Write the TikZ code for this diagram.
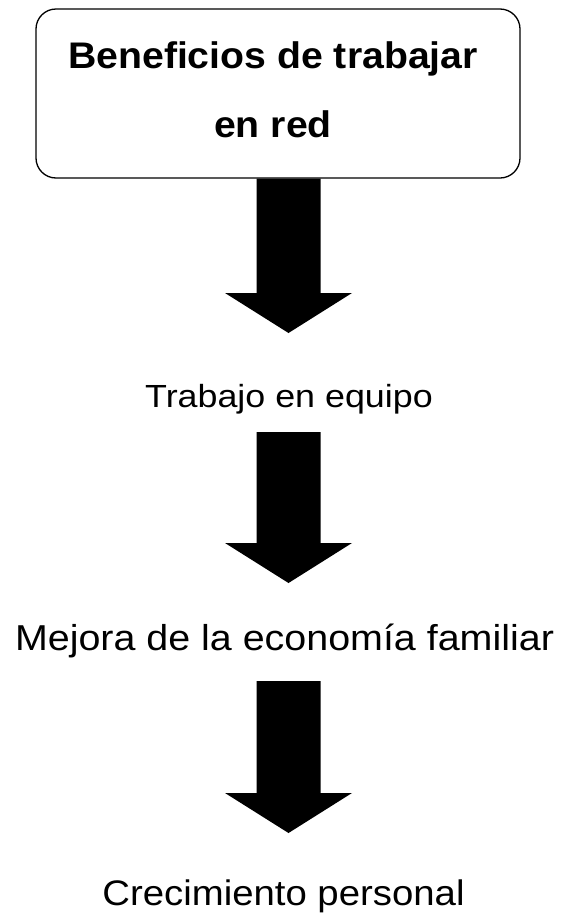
\documentclass[tikz,border=0pt]{standalone}
\usepackage{fontspec}
\setmainfont{Liberation Sans}
\usetikzlibrary{calc}

\tikzset{
  titlebox/.style={draw, line width=1.3pt, rounded corners=20pt,
    minimum width=484pt, minimum height=169pt, inner sep=0pt},
  titletext/.style={anchor=base, inner sep=0pt, xscale=1.06, font=\bfseries\fontsize{37}{44}\selectfont},
  steptext/.style={anchor=base, inner sep=0pt},
  blockarrow/.style={fill=black, to path={
    let \p1=(\tikztostart), \p2=(\tikztotarget) in
    (\x1-32pt,\y1) -- (\x1+32pt,\y1) -- (\x1+32pt,\y2+40pt) -- (\x1+63.5pt,\y2+40pt)
    -- (\x2,\y2) -- (\x1-63.5pt,\y2+40pt) -- (\x1-32pt,\y2+40pt) -- cycle}}
}

\begin{document}
\begin{tikzpicture}[x=1pt,y=-1pt]
  \useasboundingbox (0,0) rectangle (562,916);
  % title box
  \node[titlebox] (box) at (278,93.5) {};
  \node[titletext] (t1) at (273,68) {Beneficios de trabajar};
  \node[titletext] (t2) at (273,137) {en red};
  % steps
  \node[steptext, xscale=1.12, font=\fontsize{32}{38}\selectfont] (trabajo) at (289,407) {Trabajo en equipo};
  \node[steptext, xscale=1.095, font=\fontsize{36}{42}\selectfont] (mejora) at (284.5,650) {Mejora de la economía familiar};
  \node[steptext, xscale=1.08, font=\fontsize{35.5}{42}\selectfont] (crec) at (283.5,905) {Crecimiento personal};
  % arrow tips
  \coordinate (tip1) at (288.5,333);
  \coordinate (tip2) at (288.5,583);
  \coordinate (tip3) at (288.5,833);
  % block arrows
  \path[blockarrow] (box.south -| tip1) to (tip1);
  \path[blockarrow] ($(trabajo.base -| tip2)+(0,25)$) to (tip2);
  \path[blockarrow] ($(mejora.base -| tip3)+(0,31)$) to (tip3);
\end{tikzpicture}
\end{document}
